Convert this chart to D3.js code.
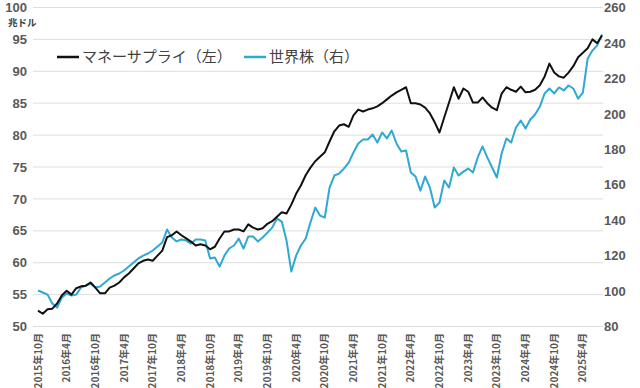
<!DOCTYPE html>
<html>
<head>
<meta charset="utf-8">
<script src="https://cdn.jsdelivr.net/npm/d3@7"></script>
<style>
body { margin: 0; background: #fff; }
</style>
</head>
<body>
<svg></svg>
<script>
// monthly categories, 2015-10 .. 2025-08
let months = d3.timeMonth.range(new Date(2015, 9, 1), new Date(2025, 8, 1))

// money supply (left axis, trillion USD)
let moneySupply = [
  52.5, 52.0, 52.7, 52.8, 53.6, 54.9, 55.6, 55.0, 56.0, 56.3,
  56.4, 56.9, 56.1, 55.2, 55.2, 56.1, 56.4, 56.9, 57.7, 58.3,
  59.1, 59.9, 60.3, 60.5, 60.3, 61.1, 61.9, 64.0, 64.3, 64.9,
  64.3, 63.8, 63.3, 62.7, 62.9, 62.7, 62.1, 62.5, 63.8, 64.9,
  64.9, 65.2, 65.2, 64.9, 66.0, 65.5, 65.2, 65.4, 66.1, 66.5,
  67.2, 67.9, 67.7, 69.1, 70.8, 72.1, 73.7, 74.9, 75.9, 76.6,
  77.3, 79.0, 80.6, 81.5, 81.7, 81.3, 83.1, 84.0, 83.7, 84.0,
  84.2, 84.5, 85.0, 85.6, 86.2, 86.7, 87.1, 87.5, 85.0, 85.0,
  84.8, 84.3, 83.4, 82.0, 80.4, 82.8, 85.1, 87.5, 85.7, 87.3,
  86.8, 85.1, 85.1, 85.9, 85.0, 84.3, 83.9, 86.5, 87.5, 87.1,
  86.8, 87.6, 86.7, 86.8, 87.1, 87.8, 89.2, 91.2, 89.8, 89.2,
  89.0, 89.8, 90.8, 92.2, 92.9, 93.6, 95.0, 94.4, 95.6
]

// world stocks (right axis)
let worldStocks = [
  100.3, 99.2, 98.0, 93.0, 90.7, 96.3, 98.6, 97.5, 98.0, 102.0,
  103.1, 104.2, 102.0, 102.6, 104.8, 107.1, 108.8, 109.9, 111.6, 113.8,
  116.1, 118.4, 120.0, 121.2, 122.9, 125.1, 127.4, 134.7, 130.2, 128.0,
  129.1, 128.5, 126.8, 129.1, 129.1, 128.5, 118.4, 118.9, 113.8, 120.0,
  124.0, 125.7, 129.6, 124.0, 130.8, 130.8, 128.0, 130.2, 133.0, 135.8,
  140.9, 139.2, 128.5, 111.0, 120.0, 125.7, 129.6, 138.7, 147.1, 142.6,
  141.5, 158.4, 165.2, 166.3, 169.1, 172.5, 178.2, 183.3, 185.5, 185.5,
  188.3, 183.8, 189.5, 186.1, 190.6, 183.3, 178.7, 179.3, 166.9, 164.6,
  156.7, 164.6, 158.4, 147.1, 150.0, 162.4, 158.4, 169.7, 165.2, 167.4,
  169.1, 166.9, 175.4, 181.6, 175.4, 169.7, 164.1, 177.6, 186.1, 183.8,
  192.3, 196.2, 191.7, 196.8, 199.6, 204.1, 211.5, 214.3, 211.5, 214.9,
  213.2, 216.0, 214.3, 208.6, 212.0, 231.2, 235.7, 238.6, 244.8
]

let leftTicks = [50, 55, 60, 65, 70, 75, 80, 85, 90, 95, 100]
let rightTicks = [80, 100, 120, 140, 160, 180, 200, 220, 240, 260]
let seriesNames = ['マネーサプライ（左）', '世界株（右）']
let unitLabel = '兆ドル'

let width = 640
let height = 388
let plotTop = 7.5
let plotBottom = 326.5
let gridLeft = 33
let gridRight = 603

let black = '#111111'
let cyan = '#2fa8d2'
let labelColor = '#595959'
let font = '"Liberation Sans Narrow", "Liberation Sans", Arial, sans-serif'
let jpFont = '"Noto Sans CJK JP", sans-serif'

let svg = d3.select('svg')
  .attr('width', width)
  .attr('height', height)

let xScale = d3.scalePoint()
  .domain(d3.range(months.length))
  .range([38, 602])

let yLeft = d3.scaleLinear().domain([50, 100]).range([plotBottom, plotTop])
let yRight = d3.scaleLinear().domain([80, 260]).range([plotBottom, plotTop])

// gridlines
svg.append('g')
  .selectAll('line')
  .data(leftTicks)
  .enter()
  .append('line')
  .attr('x1', gridLeft)
  .attr('x2', gridRight)
  .attr('y1', d => yLeft(d))
  .attr('y2', d => yLeft(d))
  .attr('stroke', '#dedede')
  .attr('stroke-width', 1)

// left axis
let leftAxis = svg.append('g')
  .attr('transform', 'translate(27, 0)')
  .call(d3.axisLeft(yLeft).tickValues(leftTicks).tickSize(0).tickPadding(0))
leftAxis.select('.domain').remove()
leftAxis.selectAll('text')
  .attr('fill', labelColor)
  .style('font-family', font)
  .style('font-size', '13px')
  .style('font-weight', 'bold')

// right axis
let rightAxis = svg.append('g')
  .attr('transform', 'translate(604, 0)')
  .call(d3.axisRight(yRight).tickValues(rightTicks).tickSize(0).tickPadding(0))
rightAxis.select('.domain').remove()
rightAxis.selectAll('text')
  .attr('fill', labelColor)
  .style('font-family', font)
  .style('font-size', '13px')
  .style('font-weight', 'bold')

// unit label
svg.append('text')
  .attr('x', 8)
  .attr('y', 26)
  .attr('fill', '#404040')
  .style('font-family', jpFont)
  .style('font-size', '9.5px')
  .style('font-weight', 'bold')
  .text(unitLabel)

// x labels, every 6 months
let labelIdx = d3.range(0, months.length, 6)
svg.append('g')
  .selectAll('text')
  .data(labelIdx)
  .enter()
  .append('text')
  .attr('transform', i => 'translate(' + xScale(i) + ', 333) rotate(-90)')
  .attr('text-anchor', 'end')
  .attr('dy', '0.35em')
  .attr('fill', labelColor)
  .style('font-family', jpFont)
  .style('font-size', '10px')
  .style('font-weight', 'bold')
  .text(i => months[i].getFullYear() + '年' + (months[i].getMonth() + 1) + '月')

// lines
let lineLeft = d3.line()
  .x((d, i) => xScale(i))
  .y(d => yLeft(d))
let lineRight = d3.line()
  .x((d, i) => xScale(i))
  .y(d => yRight(d))

svg.append('path')
  .datum(worldStocks)
  .attr('d', lineRight)
  .attr('fill', 'none')
  .attr('stroke', cyan)
  .attr('stroke-width', 2)
  .attr('stroke-linejoin', 'round')

svg.append('path')
  .datum(moneySupply)
  .attr('d', lineLeft)
  .attr('fill', 'none')
  .attr('stroke', black)
  .attr('stroke-width', 2)
  .attr('stroke-linejoin', 'round')

// legend
let legend = [
  { name: seriesNames[0], color: black, x: 57 },
  { name: seriesNames[1], color: cyan, x: 244 }
]
let lg = svg.append('g')
lg.selectAll('line')
  .data(legend)
  .enter()
  .append('line')
  .attr('x1', d => d.x)
  .attr('x2', d => d.x + 22)
  .attr('y1', 57)
  .attr('y2', 57)
  .attr('stroke', d => d.color)
  .attr('stroke-width', 2.5)
lg.selectAll('text')
  .data(legend)
  .enter()
  .append('text')
  .attr('x', d => d.x + 25)
  .attr('y', 57)
  .attr('dy', '0.35em')
  .attr('fill', '#404040')
  .style('font-family', jpFont)
  .style('font-size', '15px')
  .text(d => d.name)
</script>
</body>
</html>
